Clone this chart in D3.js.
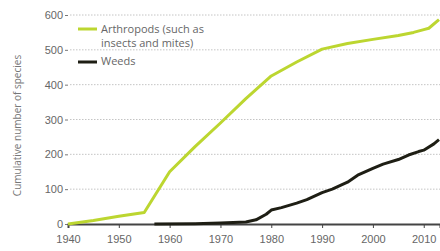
<!DOCTYPE html>
<html>
<head>
<meta charset="utf-8">
<script src="https://cdn.jsdelivr.net/npm/d3@7"></script>
<style>
  body { margin: 0; background: #fff; }
  svg { display: block; font-family: "Open Sans", "DejaVu Sans", sans-serif; }
</style>
</head>
<body>
<div id="chart"></div>
<script>
const arthYears = [1940, 1945, 1950, 1955, 1960, 1965, 1970, 1975, 1980, 1985, 1990, 1995, 2000, 2005, 2008, 2010, 2011, 2013];
const arthValues = [0, 10, 22, 33, 150, 222, 290, 360, 425, 465, 502, 518, 530, 541, 550, 558, 562, 587];

const weedYears = [1957, 1965, 1970, 1975, 1977, 1979, 1980, 1982, 1985, 1987, 1990, 1992, 1995, 1997, 2000, 2002, 2005, 2007, 2009, 2010, 2012, 2013];
const weedValues = [0, 1, 3, 6, 12, 28, 40, 47, 60, 70, 90, 100, 120, 140, 160, 172, 185, 198, 208, 212, 230, 242];

const xTicks = [1940, 1950, 1960, 1970, 1980, 1990, 2000, 2010];
const yTicks = [0, 100, 200, 300, 400, 500, 600];

const width = 440;
const height = 251;
const margin = { top: 15, right: 0, bottom: 27, left: 68 };

const svg = d3.select('#chart')
    .append('svg')
    .attr('width', width)
    .attr('height', height);

const x = d3.scaleLinear()
    .domain([1940, 2013.2])
    .range([margin.left, 440]);

const y = d3.scaleLinear()
    .domain([0, 600])
    .range([height - margin.bottom, margin.top]);

// dotted grid
svg.append("g")
    .selectAll("line")
    .data(yTicks.filter(d => d > 0))
    .join("line")
    .attr("x1", margin.left + 2)
    .attr("x2", width)
    .attr("y1", d => y(d))
    .attr("y2", d => y(d))
    .attr("stroke", "#c4c4c4")
    .attr("stroke-width", 1)
    .attr("stroke-dasharray", "1.5,1.5");

function yAxis(g) {
    g.attr("transform", `translate(${margin.left},0)`)
        .call(d3.axisLeft(y).tickValues(yTicks).tickSize(3).tickPadding(2))
        .call(g => g.select(".domain").remove())
        .call(g => g.selectAll(".tick line").attr("stroke", "#777"))
        .call(g => g.selectAll("text").attr("fill", "#666").attr("font-size", "11px"));
}

function xAxis(g) {
    g.attr("transform", `translate(0,${y(0)})`)
        .call(d3.axisBottom(x).tickValues(xTicks).tickFormat(d3.format("d")).tickSize(4).tickPadding(7))
        .call(g => g.select(".domain").attr("stroke", "#444").attr("stroke-width", 2))
        .call(g => g.selectAll(".tick line").attr("stroke", "#444"))
        .call(g => g.selectAll("text").attr("fill", "#666").attr("font-size", "11px"));
}

svg.append("g").call(yAxis);
svg.append("g").call(xAxis);

svg.append("text")
    .attr("transform", `translate(21,${(y(0) + y(600)) / 2 + 6}) rotate(-90)`)
    .attr("text-anchor", "middle")
    .attr("fill", "#777")
    .attr("font-size", "10px")
    .text("Cumulative number of species");

const line = d3.line()
    .x(d => x(d[0]))
    .y(d => y(d[1]));

svg.append("path")
    .datum(d3.zip(weedYears, weedValues))
    .attr("fill", "none")
    .attr("stroke", "#1e1e14")
    .attr("stroke-width", 3)
    .attr("stroke-linejoin", "round")
    .attr("d", line);

svg.append("path")
    .datum(d3.zip(arthYears, arthValues))
    .attr("fill", "none")
    .attr("stroke", "#bcd630")
    .attr("stroke-width", 3)
    .attr("stroke-linejoin", "round")
    .attr("d", line);

// legend
const legend = svg.append("g").attr("font-size", "11px").attr("fill", "#666");
legend.append("line").attr("x1", 78).attr("x2", 97).attr("y1", 29).attr("y2", 29)
    .attr("stroke", "#bcd630").attr("stroke-width", 3);
legend.append("text").attr("x", 101).attr("y", 33).text("Arthropods (such as");
legend.append("text").attr("x", 101).attr("y", 47).text("insects and mites)");
legend.append("line").attr("x1", 78).attr("x2", 97).attr("y1", 62).attr("y2", 62)
    .attr("stroke", "#1e1e14").attr("stroke-width", 3);
legend.append("text").attr("x", 101).attr("y", 65).text("Weeds");
</script>
</body>
</html>
